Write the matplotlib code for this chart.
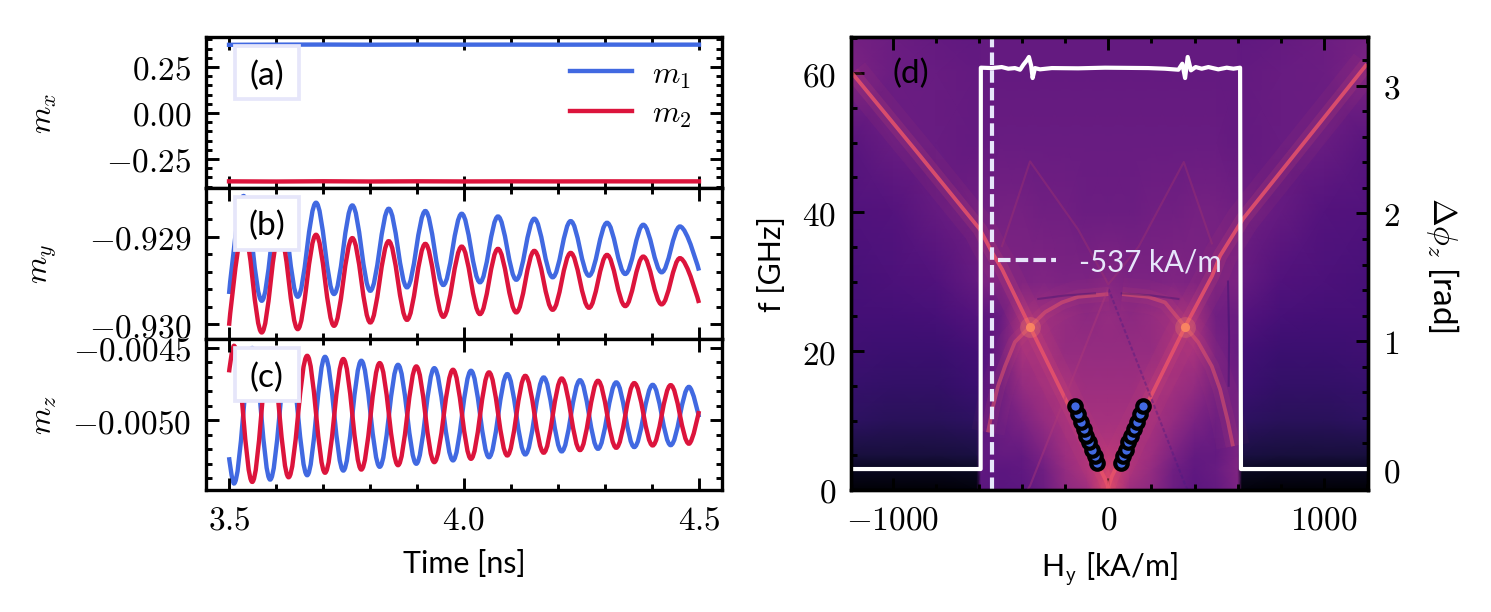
import numpy as np
from matplotlib import pyplot as plt
from matplotlib.path import Path
from matplotlib.patches import PathPatch, Rectangle
from matplotlib.ticker import AutoMinorLocator

plt.rcParams['font.family'] = ['Lato', 'DejaVu Sans']
plt.rcParams['mathtext.fontset'] = 'cm'
plt.rcParams['font.size'] = 8
plt.rcParams['axes.linewidth'] = 0.8

BLUE = '#4169e1'
RED = '#dc143c'
LAVENDER = '#e6e6fa'

# panel a
t_x = [3.5, 3.6, 3.7, 3.8, 3.9, 4.0, 4.1, 4.2, 4.3, 4.4, 4.5]
m1_x = [0.3705, 0.3715, 0.3720, 0.3712, 0.3718, 0.3715, 0.3717, 0.3713, 0.3716, 0.3714, 0.3715]
m2_x = [-0.3715, -0.3725, -0.3710, -0.3722, -0.3712, -0.3720, -0.3714, -0.3718, -0.3715, -0.3717, -0.3716]

# panel b, turning points of the oscillation
t_y = [3.5, 3.5309, 3.5696, 3.6077, 3.6462, 3.6851, 3.7234, 3.7623, 3.8006, 3.8398, 3.8787, 3.9177, 3.9560, 3.9951,
       4.0340, 4.0723, 4.1113, 4.1496, 4.1887, 4.2270, 4.2660, 4.3043, 4.3432, 4.3815, 4.4206, 4.4596, 4.5]
m1_y = [-0.929656, -0.928537, -0.929733, -0.928574, -0.929687, -0.928614, -0.929656, -0.928645, -0.929619,
        -0.928683, -0.929580, -0.928709, -0.929553, -0.928740, -0.929522, -0.928771, -0.929493, -0.928797,
        -0.929465, -0.928824, -0.929447, -0.928843, -0.929427, -0.928866, -0.929408, -0.928885, -0.929389]
m2_y = [-0.930019, -0.928904, -0.930095, -0.928940, -0.930057, -0.928980, -0.930019, -0.929018, -0.929981,
        -0.929053, -0.929951, -0.929084, -0.929916, -0.929115, -0.929885, -0.929141, -0.929866, -0.929164,
        -0.929836, -0.929187, -0.929813, -0.929210, -0.929794, -0.929229, -0.929774, -0.929247, -0.929759]

# panel c, turning points of the oscillation
t_z = [3.5, 3.5105, 3.5494, 3.5875, 3.6268, 3.6663, 3.7043, 3.7432, 3.7815, 3.8206, 3.8596, 3.8985, 3.9368, 3.9766,
       4.0149, 4.0532, 4.0921, 4.1304, 4.1696, 4.2079, 4.2468, 4.2851, 4.3240, 4.3623, 4.4015, 4.4398, 4.4787, 4.5]
m1_z = [-0.005254, -0.005435, -0.004502, -0.005408, -0.004530, -0.005378, -0.004563, -0.005346, -0.004590,
        -0.005320, -0.004618, -0.005299, -0.004641, -0.005276, -0.004659, -0.005254, -0.004682, -0.005235,
        -0.004705, -0.005214, -0.004724, -0.005196, -0.004739, -0.005184, -0.004756, -0.005171, -0.004770, -0.004979]
m2_z = [-0.004670, -0.004487, -0.005424, -0.004509, -0.005392, -0.004556, -0.005361, -0.004578, -0.005339,
        -0.004606, -0.005309, -0.004629, -0.005288, -0.004652, -0.005265, -0.004670, -0.005242, -0.004694,
        -0.005223, -0.004712, -0.005205, -0.004728, -0.005189, -0.004744, -0.005173, -0.004758, -0.005161, -0.004936]

# panel d, spectrum background (magma scale)
spec_h = [-1197, -1000, -800, -610, -590, -500, -400, -300, -200, -100, 0, 100, 200, 300, 400, 500, 600, 620, 800, 1000, 1204]
spec_f = [0, 3, 5, 10, 15, 20, 25, 30, 40, 50, 60, 65.2]
spec_0 = [.01, .01, .01, .02, .28, .27, .28, .32, .40, .44, .58, .44, .40, .32, .28, .30, .36, .02, .01, .01, .01]
spec_3 = [.06, .06, .06, .07, .29, .28, .29, .33, .42, .48, .55, .48, .42, .33, .29, .31, .37, .07, .06, .06, .06]
spec_5 = [.11, .11, .11, .12, .29, .30, .30, .36, .44, .48, .50, .48, .44, .36, .30, .30, .36, .12, .11, .11, .11]
spec_10 = [.17, .16, .16, .17, .28, .32, .36, .42, .46, .46, .46, .46, .46, .42, .36, .32, .34, .17, .16, .16, .17]
spec_15 = [.19, .18, .18, .20, .26, .32, .42, .45, .46, .44, .44, .44, .46, .45, .42, .34, .33, .20, .18, .18, .19]
spec_20 = [.21, .20, .20, .22, .25, .32, .46, .46, .42, .42, .42, .42, .42, .46, .46, .35, .31, .22, .20, .20, .21]
spec_25 = [.22, .22, .23, .26, .27, .31, .44, .44, .42, .40, .42, .40, .42, .44, .44, .33, .32, .26, .23, .22, .22]
spec_30 = [.23, .24, .25, .30, .36, .36, .36, .37, .36, .36, .38, .36, .36, .37, .36, .35, .36, .30, .25, .24, .23]
spec_40 = [.25, .26, .30, .33, .33, .34, .34, .33, .33, .32, .32, .32, .33, .33, .34, .34, .33, .33, .30, .26, .25]
spec_50 = [.27, .31, .31, .30, .30, .31, .31, .31, .31, .31, .31, .31, .31, .31, .31, .31, .30, .30, .31, .31, .27]
spec_60 = [.36, .32, .31, .30, .30, .30, .30, .30, .30, .30, .30, .30, .30, .30, .30, .30, .30, .30, .31, .32, .36]
spec_65 = [.34, .32, .30, .29, .30, .30, .30, .30, .30, .30, .30, .30, .30, .30, .30, .30, .30, .29, .30, .32, .34]

# bright modes in the spectrum
left_h = [-1188, -891, -595, -539, -493, -363, -215, -108, -15, 5]
left_f = [60, 48.8, 37.5, 34.2, 31.8, 23.5, 14.1, 7.3, 1.6, 0]
right_h = [1199, 624, 518, 481, 356, 207, 17, -5]
right_f = [61.3, 39, 33.7, 30.8, 23.5, 14.1, 2, 0]
dome_left_h = [-558, -534, -511, -479, -433, -363, -293, -215, -140, 0]
dome_left_f = [8.3, 12.1, 15, 17.8, 21.3, 23.5, 25.6, 27, 27.8, 28.2]
dome_right_h = [578, 555, 518, 480, 416, 356, 263, 184, 64]
dome_right_f = [6.3, 9.8, 14.5, 17.8, 21.3, 23.5, 27, 27.8, 28.2]
cross_h = [-363, 356]
cross_f = [23.5, 23.5]

# faint modes
faint_up_h = [-493, -363, -140, 0, 140, 350, 480]
faint_up_f = [35.1, 47.3, 37.5, 29.6, 35, 47.2, 35.5]
faint_dark_h = [0, 358, 370]
faint_dark_f = [29, 0.6, 0]
faint_light_h = [0, -363, -375]
faint_light_f = [29, 0.6, 0]
streak_left_h = [-325, -200, -62]
streak_left_f = [27.5, 28, 28.3]
streak_right_h = [325, 200, 62]
streak_right_f = [27.5, 28, 28.3]
stripe_h = [555, 560, 558]
stripe_f = [30, 22, 15]
edge_h = [-1191, -1191]
edge_f = [0, 65.2]

# phase difference
phase_h = [-1204, -592, -591, -541, -494, -464, -433, -409, -394, -378, -368, -358, -351, -340, -317, -262, -140, -15,
           185, 263, 325, 343, 356, 368, 383, 405, 433, 464, 510, 549, 580, 611, 615, 1204]
phase_v = [0, 0, 3.14, 3.137, 3.145, 3.132, 3.137, 3.124, 3.163, 3.197, 3.224, 3.158, 3.059, 3.137, 3.127, 3.137, 3.135,
           3.14, 3.137, 3.132, 3.124, 3.171, 3.059, 3.224, 3.119, 3.145, 3.132, 3.145, 3.127, 3.140, 3.132, 3.140, 0, 0]

# resonance points
res_left_h = [-51, -62, -74, -88, -102, -114, -127, -139, -154]
res_left_f = [3.88, 4.94, 5.8, 6.86, 7.83, 8.78, 9.83, 10.93, 12.13]
res_right_h = [57, 70, 81, 90, 105, 121, 132, 147, 162]
res_right_f = [3.88, 4.94, 5.8, 6.86, 7.83, 8.78, 9.83, 10.93, 12.13]


def wave_patch(t, y, color):
    # smooth half waves between the turning points, first and last are plain end points
    verts = [(t[0], y[0])]
    codes = [Path.MOVETO]
    for i in range(len(t) - 1):
        dt = t[i + 1] - t[i]
        c1 = (t[i] + 0.364 * dt, y[i]) if i > 0 else (t[i], y[i])
        c2 = (t[i + 1] - 0.364 * dt, y[i + 1]) if i < len(t) - 2 else (t[i + 1], y[i + 1])
        verts += [c1, c2, (t[i + 1], y[i + 1])]
        codes += [Path.CURVE4, Path.CURVE4, Path.CURVE4]
    return PathPatch(Path(verts, codes), fill=False, edgecolor=color, lw=1.05, capstyle='butt')


def style_axis(ax, yminor=5, xminor=5):
    ax.tick_params(which='both', direction='in', top=True, right=True, width=0.7)
    ax.tick_params(which='major', length=3)
    ax.tick_params(which='minor', length=1.5)
    ax.xaxis.set_minor_locator(AutoMinorLocator(xminor))
    ax.yaxis.set_minor_locator(AutoMinorLocator(yminor))


def tag(ax, label):
    ax.add_patch(Rectangle((0.056, 0.588), 0.124, 0.352, transform=ax.transAxes, fc='white', ec=LAVENDER,
                           lw=0.9, zorder=5))
    ax.text(0.118, 0.75, label, transform=ax.transAxes, ha='center', va='center', fontsize=8, zorder=6)


def ridge(ax, h, f, color='#e8536a', scale=1.0):
    ax.plot(h, f, color=color, lw=8, alpha=0.06 * scale, solid_capstyle='butt')
    ax.plot(h, f, color=color, lw=3.5, alpha=0.14 * scale, solid_capstyle='butt')
    ax.plot(h, f, color=color, lw=0.9, alpha=0.85 * scale, solid_capstyle='butt')


def main():
    fig = plt.figure(figsize=(4.97, 2.0433), dpi=300)
    W, H = 1491.0, 613.0

    def place(x0, y0, x1, y1):
        return fig.add_axes([x0 / W, 1 - y1 / H, (x1 - x0) / W, (y1 - y0) / H])

    ax_a = place(206, 38, 722, 188.5)
    ax_b = place(206, 188.5, 722, 340)
    ax_c = place(206, 340, 722, 491)
    ax_d = place(851, 38, 1368, 491)

    ax_a.plot(t_x, m1_x, color=BLUE, lw=1.05, label='$m_1$')
    ax_a.plot(t_x, m2_x, color=RED, lw=1.05, label='$m_2$')
    ax_a.set_ylim(-0.405, 0.413)
    ax_a.set_yticks([-0.25, 0, 0.25], labels=['$-0.25$', '$0.00$', '$0.25$'])
    ax_a.legend(frameon=False, loc='center left', bbox_to_anchor=(0.705, 0.62), borderaxespad=0, borderpad=0,
                handlelength=1.98, handletextpad=0.64, labelspacing=0.3, fontsize=7.5)

    ax_b.add_patch(wave_patch(t_y, m1_y, BLUE))
    ax_b.add_patch(wave_patch(t_y, m2_y, RED))
    ax_b.set_ylim(-0.93017, -0.92844)
    ax_b.set_yticks([-0.930, -0.929], labels=['$-0.930$', '$-0.929$'])

    ax_c.add_patch(wave_patch(t_z, m1_z, BLUE))
    ax_c.add_patch(wave_patch(t_z, m2_z, RED))
    ax_c.set_ylim(-0.00548, -0.00444)
    ax_c.set_yticks([-0.0050, -0.0045], labels=['$-0.0050$', '$-0.0045$'])

    for ax, name, label in [(ax_a, '$m_x$', '(a)'), (ax_b, '$m_y$', '(b)'), (ax_c, '$m_z$', '(c)')]:
        ax.set_xlim(3.451, 4.549)
        ax.set_xticks([3.5, 4.0, 4.5], labels=['$3.5$', '$4.0$', '$4.5$'])
        style_axis(ax)
        ax.set_ylabel(name, fontsize=7.5)
        ax.yaxis.set_label_coords(-0.285, 0.5)
        tag(ax, label)
    ax_a.tick_params(labelbottom=False)
    ax_b.tick_params(labelbottom=False)
    ax_c.set_xlabel('Time [ns]', labelpad=3.5, fontsize=7.3)

    spec = np.array([spec_0, spec_3, spec_5, spec_10, spec_15, spec_20, spec_25, spec_30,
                     spec_40, spec_50, spec_60, spec_65])
    ax_d.pcolormesh(spec_h, spec_f, spec, cmap='magma', vmin=0, vmax=1, shading='gouraud', rasterized=True)

    ridge(ax_d, left_h, left_f)
    ridge(ax_d, right_h, right_f)
    ridge(ax_d, dome_left_h, dome_left_f, '#e0556a', 0.65)
    ridge(ax_d, dome_right_h, dome_right_f, '#e0556a', 0.65)
    ax_d.plot(cross_h, cross_f, ls='none', marker='o', ms=5, color='#fc8961', mew=0, alpha=0.25)
    ax_d.plot(cross_h, cross_f, ls='none', marker='o', ms=2.2, color='#fc8961', mew=0, alpha=0.9)
    ax_d.plot(faint_up_h, faint_up_f, color='#a0336f', lw=0.5, alpha=0.4)
    ax_d.plot(faint_dark_h, faint_dark_f, color='#4a1a80', lw=0.5, alpha=0.4, ls=(0, (2, 1)))
    ax_d.plot(faint_light_h, faint_light_f, color='#b03a78', lw=0.5, alpha=0.4)
    ax_d.plot(streak_left_h, streak_left_f, color='#3d1270', lw=0.5, alpha=0.4)
    ax_d.plot(streak_right_h, streak_right_f, color='#3d1270', lw=0.5, alpha=0.4)
    ax_d.plot(stripe_h, stripe_f, color='#3d1270', lw=0.5, alpha=0.5)
    ax_d.plot(edge_h, edge_f, color='#a8346f', lw=0.5)

    ax_d.plot(res_left_h, res_left_f, ls='none', marker='o', ms=3, mfc=BLUE, mec='black', mew=1)
    ax_d.plot(res_right_h, res_right_f, ls='none', marker='o', ms=3, mfc=BLUE, mec='black', mew=1)

    ax_d.axvline(-537, color=LAVENDER, lw=1.0, ls=(0, (3, 1.25)), label='-537 kA/m')
    ax_d.set_xlim(-1193, 1204)
    ax_d.set_ylim(0, 65.2)
    ax_d.set_xticks([-1000, 0, 1000], labels=['$-1000$', '$0$', '$1000$'])
    ax_d.set_yticks([0, 20, 40, 60], labels=['$0$', '$20$', '$40$', '$60$'])
    style_axis(ax_d, yminor=4)
    ax_d.tick_params(which='both', right=False)
    ax_d.set_xlabel('H$_{\\mathsf{y}}$ [kA/m]', labelpad=3.5, fontsize=7.3)
    ax_d.set_ylabel('f [GHz]', labelpad=4, fontsize=7.3)
    ax_d.text(0.08, 0.92, '(d)', transform=ax_d.transAxes, ha='left', va='center', fontsize=8)
    leg = ax_d.legend(frameon=False, loc='center left', bbox_to_anchor=(0.284, 0.505), borderaxespad=0, borderpad=0,
                      handlelength=1.95, handletextpad=0.8, fontsize=7.1)
    leg.get_texts()[0].set_color(LAVENDER)

    ax_p = ax_d.twinx()
    ax_p.plot(phase_h, phase_v, color='white', lw=1.0, solid_joinstyle='round')
    ax_p.set_ylim(-0.164, 3.38)
    ax_p.set_yticks([0, 1, 2, 3], labels=['$0$', '$1$', '$2$', '$3$'])
    ax_p.yaxis.set_minor_locator(AutoMinorLocator(5))
    ax_p.tick_params(which='both', direction='in', width=0.7)
    ax_p.tick_params(which='major', length=3)
    ax_p.tick_params(which='minor', length=1.5)
    ax_p.set_ylabel('$\\Delta\\phi_z$ [rad]', rotation=270, fontsize=8)
    ax_p.yaxis.set_label_coords(1.18, 0.5)

    fig.savefig('out.png', dpi=300)


if __name__ == '__main__':
    main()
